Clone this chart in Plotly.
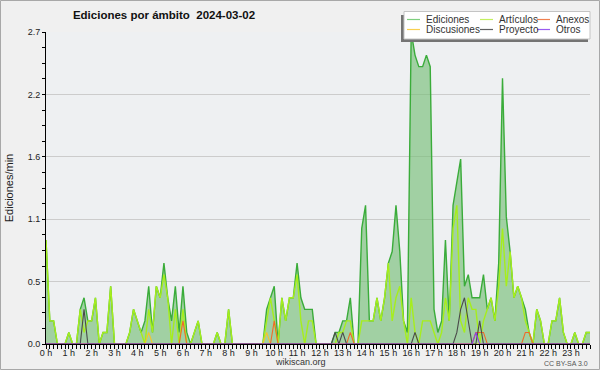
import plotly.graph_objects as go

# ---- data (edits per minute, one value per 10-minute slot) ----
slot_minutes = list(range(0, 1440, 10))

ediciones = [
    0.9, .2, .2, 0, 0, 0, .1, 0, 0, .3, .4, .2,
    .2, .4, 0, .1, .1, .5, 0, 0, 0, 0, .1, .3,
    .2, .1, .2, .5, .1, .5, .4, .7, .4, .2, .5, .1,
    .5, .1, 0, .1, .2, 0, 0, 0, 0, .1, 0, 0,
    .3, 0, 0, 0, 0, 0, 0, 0, 0, 0, .3, .4,
    .5, 0, .4, .2, .4, .4, .7, .4, .3, .3, .3, 0,
    0, 0, 0, 0, .1, .1, .2, .2, .4, 0, 0, 1.0,
    1.2, .2, .2, .4, .2, .4, .7, .8, 1.2, .8, .2, .1,
    2.7, 2.5, 2.4, 2.4, 2.5, 2.4, .3, .1, .2, .9, .2, 1.2,
    1.4, 1.6, .5, .6, .4, .4, .4, .6, .3, .4, .2, .7,
    2.3, 1.1, .8, .4, .5, .4, .3, .1, 0, .3, .2, 0,
    0, .2, .2, .4, .1, 0, 0, .1, 0, 0, .1, .1,
]

articulos = [
    0.9, .2, .2, 0, 0, 0, .1, 0, 0, .3, .1, .2,
    .2, .4, 0, .1, .1, .5, 0, 0, 0, 0, .1, .3,
    .2, .1, 0, .3, .1, .5, .4, .6, .4, 0, .3, 0,
    .3, 0, 0, .1, .2, 0, 0, 0, 0, .1, 0, 0,
    .3, 0, 0, 0, 0, 0, 0, 0, 0, 0, .2, .4,
    .2, 0, .4, .2, .4, .4, .6, .2, 0, .2, .2, 0,
    0, 0, 0, 0, 0, .1, .1, .2, .2, 0, 0, .2,
    .2, .2, .2, .4, .2, .4, .7, .2, .4, .5, .2, 0,
    .4, .1, 0, .2, .2, .2, .1, 0, .1, .4, .2, 1.0,
    1.2, .2, .1, .4, .3, .3, 0, .2, .3, .4, .2, .5,
    1.0, .5, .8, .4, .5, .4, .2, .1, 0, .3, .2, 0,
    0, .2, .2, .4, .1, 0, 0, .1, 0, 0, .1, .1,
]

anexos = [
    0, 0, 0, 0, 0, 0, 0, 0, 0, 0, 0, 0,
    0, 0, 0, 0, 0, 0, 0, 0, 0, 0, 0, 0,
    0, 0, 0, 0, 0, 0, 0, 0, 0, 0, 0, 0,
    .2, 0, 0, 0, 0, 0, 0, 0, 0, 0, 0, 0,
    0, 0, 0, 0, 0, 0, 0, 0, 0, 0, 0, 0,
    .2, 0, 0, 0, 0, 0, 0, 0, 0, 0, 0, 0,
    0, 0, 0, 0, 0, 0, 0, 0, .1, 0, 0, 0,
    0, 0, 0, 0, 0, 0, 0, 0, 0, 0, 0, 0,
    0, 0, 0, 0, 0, 0, 0, 0, 0, 0, 0, 0,
    0, 0, 0, 0, 0, .1, .1, .1, 0, 0, 0, 0,
    0, 0, 0, 0, 0, 0, .1, .1, 0, 0, 0, 0,
    0, 0, 0, 0, 0, 0, 0, 0, 0, 0, 0, 0,
]

discusiones = [
    0, 0, 0, 0, 0, 0, 0, 0, 0, 0, 0, 0,
    0, 0, 0, 0, 0, 0, 0, 0, 0, 0, 0, 0,
    0, 0, 0, .1, 0, 0, 0, 0, 0, 0, 0, 0,
    0, 0, 0, 0, 0, 0, 0, 0, 0, 0, 0, 0,
    0, 0, 0, 0, 0, 0, 0, 0, 0, 0, .1, 0,
    0, 0, 0, 0, 0, 0, 0, 0, 0, 0, 0, 0,
    0, 0, 0, 0, 0, 0, 0, 0, 0, 0, 0, 0,
    0, 0, 0, 0, 0, 0, 0, 0, 0, 0, 0, 0,
    0, 0, 0, 0, 0, 0, 0, 0, 0, 0, 0, 0,
    0, 0, 0, 0, 0, 0, 0, 0, 0, 0, 0, 0,
    0, 0, 0, 0, 0, 0, 0, 0, 0, 0, 0, 0,
    0, 0, 0, 0, 0, 0, 0, 0, 0, 0, 0, 0,
]

proyecto = [
    0, 0, 0, 0, 0, 0, 0, 0, 0, 0, .3, 0,
    0, 0, 0, 0, 0, 0, 0, 0, 0, 0, 0, 0,
    0, 0, 0, 0, 0, 0, 0, 0, 0, 0, 0, 0,
    0, 0, 0, 0, 0, 0, 0, 0, 0, 0, 0, 0,
    0, 0, 0, 0, 0, 0, 0, 0, 0, 0, 0, 0,
    0, 0, 0, 0, 0, 0, 0, 0, 0, 0, 0, 0,
    0, 0, 0, 0, .1, 0, .1, 0, 0, 0, 0, 0,
    0, 0, 0, 0, 0, 0, 0, 0, 0, 0, 0, 0,
    0, .1, 0, 0, 0, 0, 0, 0, 0, 0, 0, 0,
    .1, .3, .4, .2, 0, 0, .2, 0, 0, 0, 0, 0,
    0, 0, 0, 0, 0, 0, 0, 0, 0, 0, 0, 0,
    0, 0, 0, 0, 0, 0, 0, 0, 0, 0, 0, 0,
]

otros = [
    0, 0, 0, 0, 0, 0, 0, 0, 0, 0, 0, 0,
    0, 0, 0, 0, 0, 0, 0, 0, 0, 0, 0, 0,
    0, 0, 0, 0, 0, 0, 0, 0, 0, 0, 0, 0,
    0, 0, 0, 0, 0, 0, 0, 0, 0, 0, 0, 0,
    0, 0, 0, 0, 0, 0, 0, 0, 0, 0, 0, 0,
    0, 0, 0, 0, 0, 0, 0, 0, 0, 0, 0, 0,
    0, 0, 0, 0, 0, 0, 0, 0, 0, 0, 0, 0,
    0, 0, 0, 0, 0, 0, 0, 0, 0, 0, 0, 0,
    0, 0, 0, 0, 0, 0, 0, 0, 0, 0, 0, 0,
    0, 0, 0, 0, 0, .1, 0, 0, 0, 0, 0, 0,
    0, 0, 0, 0, 0, 0, 0, 0, 0, 0, 0, 0,
    0, 0, 0, 0, 0, 0, 0, 0, 0, 0, 0, 0,
]

series_names = ["Ediciones", "Artículos", "Anexos", "Discusiones", "Proyecto", "Otros"]

y_tick_vals = [0, 0.54, 1.08, 1.62, 2.16, 2.7]
y_tick_text = ["0.0", "0.5", "1.1", "1.6", "2.2", "2.7"]

title_text = "Ediciones por ámbito\u00a0 2024-03-02"

# ---- styling ----
FONT = "Liberation Sans, Arial, sans-serif"
COLORS = {
    "Ediciones": "#3aac3a",
    "Artículos": "#a6ee1c",
    "Anexos": "#f06a28",
    "Discusiones": "#f6c42a",
    "Proyecto": "#4a4a4a",
    "Otros": "#8a3ee8",
}
LEGEND_COLORS = {
    "Ediciones": "#7fcf7f",
    "Artículos": "#c4f060",
    "Anexos": "#f08050",
    "Discusiones": "#f8d050",
    "Proyecto": "#606060",
    "Otros": "#9a5cf0",
}

# plot area in pixels: x 46..590, y 32..344
PL, PR, PT, PB = 46, 590, 32, 344


def px_x(px):
    return (px - PL) / (PR - PL)


def px_y(py):
    return (PB - py) / (PB - PT)


x_hours = [m / 60 for m in slot_minutes]

fig = go.Figure()
fig.add_trace(go.Scatter(x=x_hours, y=ediciones, mode="lines", fill="tozeroy", name="Ediciones",
                         fillcolor="rgba(120,190,120,0.65)",
                         line=dict(color=COLORS["Ediciones"], width=1.4)))
fig.add_trace(go.Scatter(x=x_hours, y=articulos, mode="lines", name="Artículos",
                         line=dict(color=COLORS["Artículos"], width=1.4)))
fig.add_trace(go.Scatter(x=x_hours, y=discusiones, mode="lines", name="Discusiones",
                         line=dict(color=COLORS["Discusiones"], width=1.1)))
fig.add_trace(go.Scatter(x=x_hours, y=anexos, mode="lines", name="Anexos",
                         line=dict(color=COLORS["Anexos"], width=1.1)))
fig.add_trace(go.Scatter(x=x_hours, y=proyecto, mode="lines", name="Proyecto",
                         line=dict(color=COLORS["Proyecto"], width=1.1)))
fig.add_trace(go.Scatter(x=x_hours, y=otros, mode="lines", name="Otros",
                         line=dict(color=COLORS["Otros"], width=1.1)))

# ---- legend box drawn as shapes + text annotations (3 columns x 2 rows) ----
shapes = [
    # outer frame of the image
    dict(type="rect", xref="paper", yref="paper",
         x0=px_x(0.5), x1=px_x(599.5), y0=px_y(369.5), y1=px_y(0.5),
         line=dict(color="#a8a8a8", width=1), fillcolor="rgba(0,0,0,0)", layer="below"),
    # legend shadow
    dict(type="rect", xref="paper", yref="paper",
         x0=px_x(401), x1=px_x(588), y0=px_y(42), y1=px_y(15),
         line=dict(width=0), fillcolor="#747474", layer="above"),
    # legend box
    dict(type="rect", xref="paper", yref="paper",
         x0=px_x(404), x1=px_x(590), y0=px_y(39), y1=px_y(11.5),
         line=dict(color="#c4c4c4", width=1), fillcolor="white", layer="above"),
]
annotations = []
col_line_x = [407, 480, 537]
col_text_x = [424, 497, 554]
row_y = [19.5, 29.5]
for k, name in enumerate(series_names):
    r, c = divmod(k, 3)
    shapes.append(dict(type="line", xref="paper", yref="paper",
                       x0=px_x(col_line_x[c]), x1=px_x(col_line_x[c] + 13),
                       y0=px_y(row_y[r]), y1=px_y(row_y[r]),
                       line=dict(color=LEGEND_COLORS[name], width=1.2), layer="above"))
    annotations.append(dict(text=name, xref="paper", yref="paper",
                            x=px_x(col_text_x[c]), y=px_y(row_y[r]),
                            xanchor="left", yanchor="middle", showarrow=False,
                            font=dict(family=FONT, size=10, color="#333")))

annotations += [
    dict(text="wikiscan.org", xref="paper", yref="paper",
         x=px_x(300), y=px_y(362), showarrow=False,
         xanchor="center", yanchor="middle", font=dict(family=FONT, size=9, color="#333")),
    dict(text="CC BY-SA 3.0", xref="paper", yref="paper",
         x=px_x(590), y=px_y(363), showarrow=False,
         xanchor="right", yanchor="middle", font=dict(family=FONT, size=7, color="#555")),
]

fig.update_layout(
    width=600, height=370,
    margin=dict(l=PL, r=600 - PR, t=PT, b=370 - PB, autoexpand=False),
    paper_bgcolor="#f0f0f0", plot_bgcolor="#eef0f2",
    font=dict(family=FONT, size=9, color="#222"),
    showlegend=False,
    title=dict(text="<b>" + title_text + "</b>",
               x=164 / 600, xanchor="center", xref="container",
               y=1 - 15 / 370, yanchor="middle", yref="container",
               font=dict(family=FONT, size=11.5, color="#111")),
    xaxis=dict(range=[0, 143 / 6], tick0=0, dtick=1, tickformat="d", ticksuffix=" h",
               ticks="outside", ticklen=4, tickcolor="black",
               ticklabelstandoff=-4,
               showline=True, linecolor="black", linewidth=1,
               showgrid=False, zeroline=False, automargin=False,
               minor=dict(dtick=1 / 6, ticks="outside", ticklen=4, tickcolor="black",
                          showgrid=False),
               tickfont=dict(family=FONT, size=9, color="#222")),
    yaxis=dict(range=[0, 2.7], tickmode="array", tickvals=y_tick_vals, ticktext=y_tick_text,
               ticks="outside", ticklen=3, tickcolor="black",
               showline=True, linecolor="black", linewidth=1,
               showgrid=True, gridcolor="#cccccc", gridwidth=1, zeroline=False,
               automargin=False,
               minor=dict(dtick=0.135, tick0=0, ticks="outside", ticklen=3,
                          tickcolor="black", showgrid=False),
               title=dict(text="Ediciones/min", font=dict(family=FONT, size=11, color="#222"),
                          standoff=11),
               tickfont=dict(family=FONT, size=9, color="#222")),
    annotations=annotations,
    shapes=shapes,
)

fig.write_html("out.html", config={"displayModeBar": False},
               post_script="document.body.style.margin='0';")
